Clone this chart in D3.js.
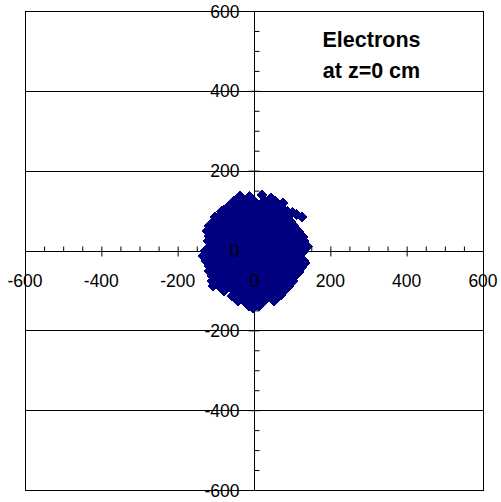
<!DOCTYPE html>
<html>
<head>
<meta charset="utf-8">
<script src="https://cdn.jsdelivr.net/npm/d3@7"></script>
<style>
  html, body { margin: 0; padding: 0; background: #fff; }
  svg { display: block; font-family: "Liberation Sans", Arial, sans-serif; }
</style>
</head>
<body>
<svg id="chart" width="501" height="502"></svg>
<script>
// Transverse positions (x, y in cm) of electrons at z = 0
const electrons = [
  [-37,137],[-11,135],[21,138],[44,132],
  [-52,124],[-26,125],[0,123],[26,124],[55,123],[76,118],
  [-66,112],[-39,111],[-13,112],[13,111],[39,112],[66,110],[71,108],
  [-86,98],[-79,100],[-52,99],[-26,98],[0,99],[26,100],[52,99],[79,98],[88,97],[100,95],
  [-102,83],[-92,86],[-66,87],[-39,86],[-13,86],[13,87],[39,86],[66,86],[92,87],[112,90],[126,84],
  [-105,74],[-79,73],[-52,74],[-26,75],[0,74],[26,73],[52,74],[79,74],[97,72],
  [-118,61],[-92,62],[-66,61],[-39,61],[-13,62],[13,61],[39,62],[66,61],[92,60],[105,62],
  [-123,49],[-105,48],[-79,49],[-52,49],[-26,48],[0,49],[26,49],[52,48],[79,49],[105,49],[118,47],
  [-118,36],[-92,37],[-66,36],[-39,36],[-13,37],[13,36],[39,36],[66,37],[92,36],[118,36],[128,34],
  [-121,24],[-105,23],[-79,24],[-52,24],[-26,23],[0,24],[26,24],[52,23],[79,24],[105,24],[131,23],
  [-115,11],[-92,12],[-66,11],[-39,11],[-13,12],[13,11],[39,11],[66,12],[92,11],[118,11],[139,10],
  [-128,-1],[-105,-2],[-79,-1],[-52,-1],[-26,-2],[0,-1],[26,-1],[52,-2],[79,-1],[105,-1],[131,-2],
  [-134,-14],[-118,-13],[-92,-14],[-66,-14],[-39,-13],[-13,-14],[13,-14],[39,-13],[66,-14],[92,-14],[118,-14],
  [-126,-26],[-105,-27],[-79,-26],[-52,-26],[-26,-27],[0,-26],[26,-26],[52,-27],[79,-26],[105,-26],[131,-27],[134,-31],
  [-118,-39],[-92,-38],[-66,-39],[-39,-39],[-13,-38],[13,-39],[39,-39],[66,-38],[92,-39],[118,-39],[126,-41],
  [-118,-51],[-105,-52],[-79,-51],[-52,-51],[-26,-52],[0,-51],[26,-51],[52,-52],[79,-51],[105,-51],[118,-53],
  [-110,-64],[-92,-63],[-66,-64],[-39,-64],[-13,-63],[13,-64],[39,-64],[66,-63],[92,-64],[107,-65],
  [-110,-76],[-105,-77],[-79,-76],[-52,-76],[-26,-77],[0,-76],[26,-76],[52,-77],[79,-76],[102,-76],
  [-107,-89],[-92,-88],[-66,-89],[-39,-89],[-13,-88],[13,-89],[39,-89],[66,-88],[92,-89],
  [-79,-101],[-52,-102],[-26,-101],[0,-101],[26,-102],[52,-101],[79,-101],
  [-58,-114],[-39,-113],[-13,-114],[13,-114],[39,-113],[66,-114],[70,-111],
  [-42,-126],[-26,-127],[0,-126],[26,-127],[52,-126],
  [-13,-139],[13,-139],[-3,-144]
];

const axisDomain = [-600, 600];
const majorTicks = [-600, -400, -200, 0, 200, 400, 600];
const minorTicks = d3.range(-600, 601, 50);
const gridValues = [-400, -200, 200, 400];
const titleLines = ["Electrons", "at z=0 cm"];

const svg = d3.select("#chart");
const plot = { left: 25, right: 483, top: 11, bottom: 490 };

const x = d3.scaleLinear().domain(axisDomain).range([plot.left, plot.right]);
const y = d3.scaleLinear().domain(axisDomain).range([plot.bottom, plot.top]);

const x0 = x(0), y0 = y(0);

// plot frame
svg.append("rect")
  .attr("x", plot.left + 0.5).attr("y", plot.top + 0.5)
  .attr("width", plot.right - plot.left).attr("height", plot.bottom - plot.top)
  .attr("fill", "none").attr("stroke", "#000").attr("stroke-width", 1);

// horizontal gridlines
svg.append("g").selectAll("line").data(gridValues).join("line")
  .attr("x1", plot.left).attr("x2", plot.right)
  .attr("y1", d => Math.round(y(d)) + 0.5).attr("y2", d => Math.round(y(d)) + 0.5)
  .attr("stroke", "#000").attr("stroke-width", 1);

function styleAxis(g) {
  g.select(".domain").remove();
  g.selectAll(".tick line").attr("stroke", "#000");
  g.selectAll(".tick text").remove();
}

// x axis: line, minor ticks above, major ticks crossing
const xAxisG = svg.append("g").attr("transform", `translate(0,${Math.round(y0) + 0.5})`);
xAxisG.append("line").attr("x1", plot.left).attr("x2", plot.right)
  .attr("stroke", "#000");
xAxisG.append("g").call(d3.axisTop(x).tickValues(minorTicks).tickSize(5)).call(styleAxis);
xAxisG.append("g").call(d3.axisBottom(x).tickValues(majorTicks).tickSize(5)).call(styleAxis);

// y axis: line, minor ticks right, major ticks crossing
const yAxisG = svg.append("g").attr("transform", `translate(${Math.round(x0) + 0.5},0)`);
yAxisG.append("line").attr("y1", plot.top).attr("y2", plot.bottom)
  .attr("stroke", "#000");
yAxisG.append("g").call(d3.axisRight(y).tickValues(minorTicks).tickSize(5)).call(styleAxis);
yAxisG.append("g").call(d3.axisLeft(y).tickValues(majorTicks).tickSize(6)).call(styleAxis);

// electron markers (square diamonds)
const diamond = {
  draw(ctx, size) {
    const r = Math.sqrt(size / 2);
    ctx.moveTo(0, -r); ctx.lineTo(r, 0); ctx.lineTo(0, r); ctx.lineTo(-r, 0); ctx.closePath();
  }
};
svg.append("g").attr("shape-rendering", "crispEdges")
  .selectAll("path").data(electrons).join("path")
  .attr("transform", d => `translate(${x(d[0])},${y(d[1])})`)
  .attr("d", d3.symbol().type(diamond).size(2 * 5.5 * 5.5))
  .attr("fill", "#000080");

// tick labels (plain hyphen-minus for negatives)
const fmt = d => String(d);
svg.append("g").selectAll("text").data(majorTicks).join("text")
  .attr("x", d => x(d)).attr("y", y0 + 36)
  .attr("text-anchor", "middle")
  .attr("font-size", 17.5).attr("fill", "#000")
  .text(fmt);
svg.append("g").selectAll("text").data(majorTicks).join("text")
  .attr("x", x0 - 14.5).attr("y", d => y(d) + 6.5)
  .attr("text-anchor", "end")
  .attr("font-size", 17.5).attr("fill", "#000")
  .text(fmt);

// title
svg.append("g").selectAll("text").data(titleLines).join("text")
  .attr("x", 371.5).attr("y", (d, i) => 47 + i * 31)
  .attr("text-anchor", "middle")
  .attr("font-size", 21.5).attr("font-weight", "bold").attr("fill", "#000")
  .text(d => d);
</script>
</body>
</html>
